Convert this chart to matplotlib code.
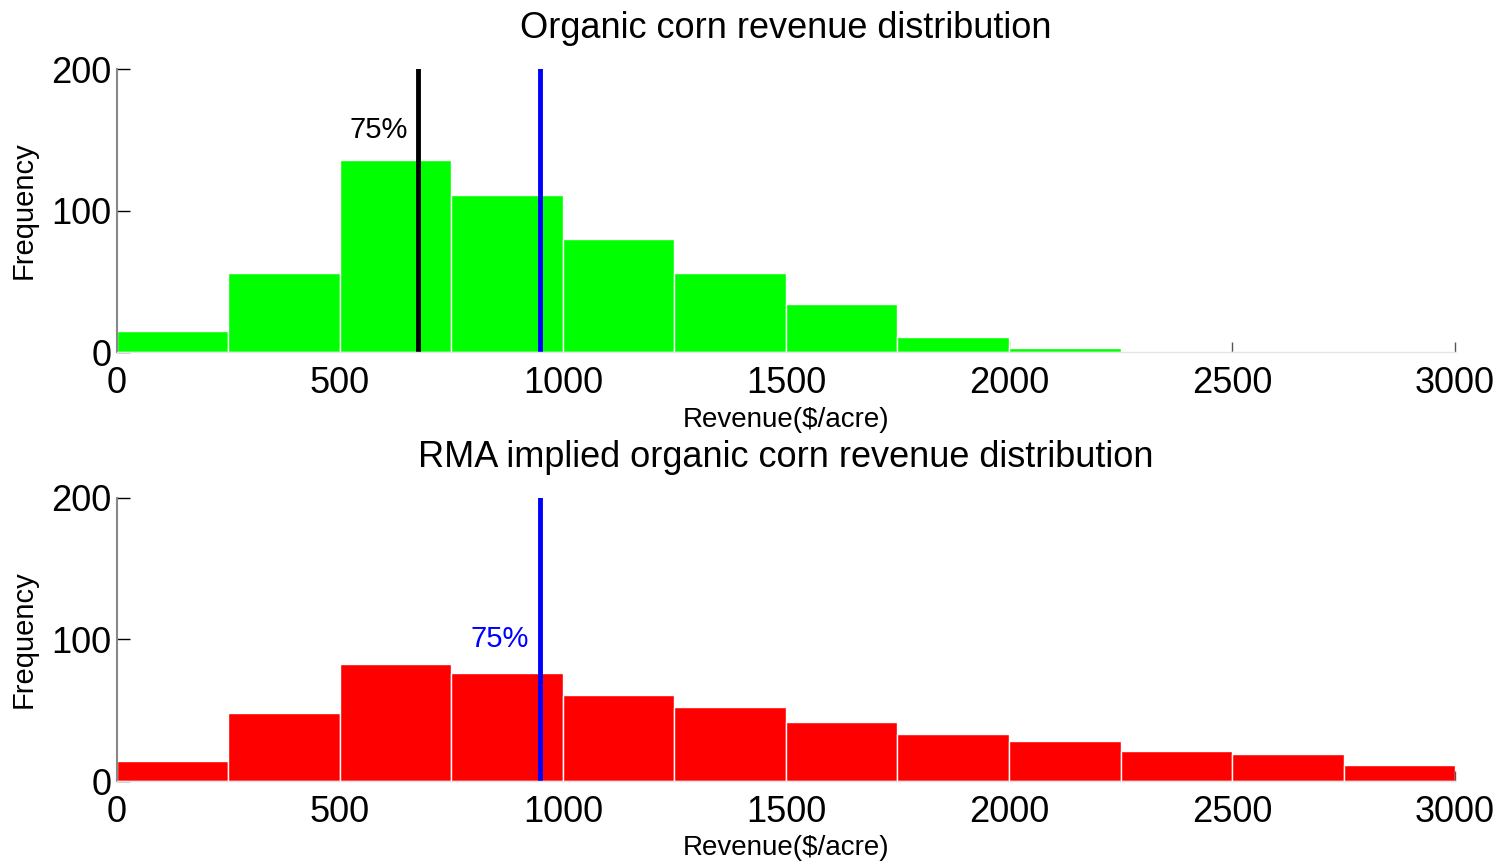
import matplotlib
matplotlib.use('Agg')
import matplotlib.pyplot as plt

# histogram bins (left edges, $/acre) and counts
bin_left = [0, 250, 500, 750, 1000, 1250, 1500, 1750, 2000, 2250, 2500, 2750]
bin_width = 250
organic_counts = [15, 56, 136, 111, 80, 56, 34, 11, 3, 0, 0, 0]
rma_counts = [14, 48, 83, 76, 61, 52, 42, 33, 28, 21, 19, 11]

# 75% coverage revenue guarantees
organic_guarantee = 675
rma_guarantee = 948

titles = ['Organic corn revenue distribution',
          'RMA implied organic corn revenue distribution']
xticks = [0, 500, 1000, 1500, 2000, 2500, 3000]
yticks = [0, 100, 200]

plt.rcParams['font.family'] = ['Liberation Sans', 'DejaVu Sans']

fig = plt.figure(figsize=(15.05, 8.63), dpi=100)
ax_top = fig.add_axes([0.0777, 0.592, 0.8891, 0.328])
ax_bot = fig.add_axes([0.0777, 0.095, 0.8891, 0.328])


def style_axes(ax, title):
    ax.set_xlim(0, 3000)
    ax.set_ylim(0, 200)
    ax.set_xticks(xticks)
    ax.set_yticks(yticks)
    ax.set_axisbelow(True)
    ax.tick_params(axis='both', direction='in', labelsize=26, pad=6)
    ax.tick_params(axis='y', length=9, width=1, color='black', pad=4)
    ax.tick_params(axis='x', length=7, width=1, color='#555555', pad=10)
    for side in ['top', 'right']:
        ax.spines[side].set_visible(False)
    ax.spines['left'].set_color('#888888')
    ax.spines['left'].set_linewidth(1.5)
    ax.spines['bottom'].set_color('#e4e4e4')
    ax.spines['bottom'].set_linewidth(1)
    ax.set_title(title, fontsize=26, pad=22)
    ax.set_xlabel('Revenue($/acre)', fontsize=20, labelpad=4)
    ax.set_ylabel('Frequency', fontsize=21, labelpad=10)


ax_top.bar(bin_left, organic_counts, width=bin_width, align='edge',
           color='#00ff00', edgecolor='white', linewidth=1)
ax_top.axvline(organic_guarantee, color='black', lw=3.5)
ax_top.axvline(rma_guarantee, color='#0000ff', lw=3.5)
ax_top.text(organic_guarantee - 22, 157, '75%', fontsize=21, ha='right', va='center')
style_axes(ax_top, titles[0])

ax_bot.bar(bin_left, rma_counts, width=bin_width, align='edge',
           color='#ff0000', edgecolor='white', linewidth=1)
ax_bot.axvline(rma_guarantee, color='#0000ff', lw=3.5)
ax_bot.text(rma_guarantee - 25, 100, '75%', fontsize=21, ha='right', va='center',
            color='#0000ff')
style_axes(ax_bot, titles[1])

plt.savefig('out.png', dpi=100)
